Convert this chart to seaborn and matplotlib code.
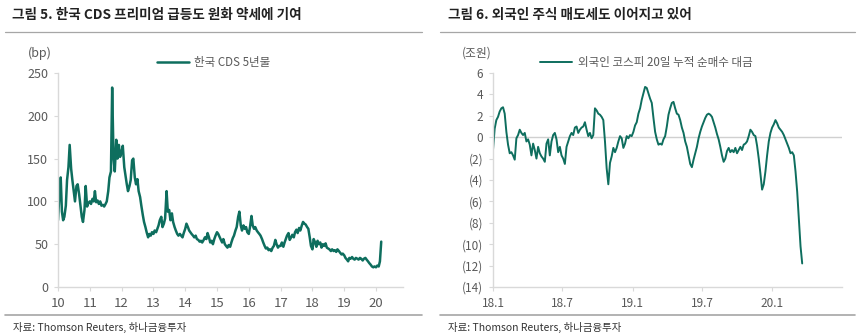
import numpy as np
import pandas as pd
import matplotlib
matplotlib.use("Agg")
import matplotlib.pyplot as plt
import matplotlib.dates as mdates
from matplotlib.lines import Line2D
import seaborn as sns

# ---------------- data ----------------
# Korea CDS 5Y (bp), semi-monthly readings, Jan 2010 - Mar 2020
cds_2010 = [78, 105, 128, 88, 78, 82, 95, 125, 140, 166, 138, 125, 112, 100, 118, 120, 108, 96, 82, 76, 90, 118, 94, 98]
cds_2011 = [100, 97, 103, 100, 112, 99, 101, 97, 100, 95, 96, 94, 97, 100, 112, 128, 135, 233, 150, 135, 172, 150, 166, 152]
cds_2012 = [158, 165, 140, 130, 120, 112, 118, 125, 148, 150, 128, 120, 126, 112, 105, 95, 84, 76, 70, 64, 58, 62, 60, 64]
cds_2013 = [62, 66, 64, 68, 72, 78, 82, 70, 74, 80, 112, 88, 90, 78, 86, 76, 70, 66, 62, 60, 62, 60, 58, 63]
cds_2014 = [68, 74, 70, 66, 64, 62, 60, 58, 60, 56, 55, 53, 54, 52, 55, 58, 56, 63, 58, 52, 54, 50, 56, 60]
cds_2015 = [64, 62, 58, 55, 52, 56, 50, 48, 46, 49, 47, 52, 57, 60, 66, 70, 82, 88, 72, 66, 72, 68, 70, 64]
cds_2016 = [62, 70, 83, 72, 68, 70, 66, 64, 62, 60, 56, 52, 48, 45, 46, 43, 44, 42, 46, 48, 55, 50, 46, 48]
cds_2017 = [48, 52, 47, 52, 56, 60, 63, 55, 58, 61, 58, 64, 67, 63, 69, 66, 72, 76, 74, 73, 70, 68, 58, 48]
cds_2018 = [44, 56, 52, 47, 54, 50, 52, 46, 50, 48, 51, 46, 45, 44, 42, 44, 42, 43, 41, 44, 42, 40, 38, 39]
cds_2019 = [37, 34, 32, 30, 34, 33, 35, 33, 32, 34, 33, 32, 34, 33, 31, 33, 34, 32, 30, 28, 26, 24, 23, 24]
cds_2020 = [23, 25, 24, 30, 53]
cds_label = "한국 CDS 5년물"
cds_years = ["10", "11", "12", "13", "14", "15", "16", "17", "18", "19", "20"]

# Foreign net buying of KOSPI, 20-day cumulative (trillion KRW), Jan 2018 - Mar 2020
flow_2018a = [-1.2, 0.8, 1.6, 1.9, 2.4, 2.7, 2.8, 2.2, 0.5, -0.7, -1.5, -1.4, -1.7, -2.1, -0.1, 0.2, 0.7, 0.4,
              0.2, 0.4, -0.4, -0.2, -0.7, -1.7, -0.6, -1.2, -2.0, -0.9, -1.5, -1.8, -2.0, -2.3, -0.6, -0.2,
              -1.7, -0.4, 0.2, 0.4, -0.2, -1.4, -0.9, -1.7, -2.0, -2.5, -0.9, -0.4, 0.1, 0.4, 0.2, 0.9, 1.0,
              0.4, 0.7, 0.9, 1.0, 1.4, 0.7, 0.1, 0.4, -0.1, 0.2, 2.7, 2.5, 2.2, 2.1, 1.9, 1.6, -0.4, -2.9]
flow_2018b = [-4.4, -2.4, -1.8, -1.0, -1.4, -1.0, -0.4, 0.1, -0.1, -1.0, -0.6, 0.1, -0.1, 0.2, 0.1, 0.5, 1.1,
              1.4, 2.2, 2.7, 3.5, 4.1, 4.7, 4.6, 4.1, 3.6, 3.2, 1.8, 0.5, -0.2, -0.7, -0.6, -0.7, -0.2, 0.1,
              1.0, 2.1, 2.7, 3.2, 3.3, 2.7, 2.2, 2.1, 1.6, 0.9, 0.4, -0.4, -0.9, -1.7, -2.5, -2.8, -2.1, -1.5,
              -0.9, -0.1, 0.5, 1.0, 1.4, 1.8, 2.1, 2.2, 2.1, 1.9, 1.4, 0.9]
flow_2019 = [0.3, -0.2, -0.9, -1.7, -2.3, -2.0, -1.3, -1.0, -1.4, -1.2, -1.4, -1.0, -1.5, -1.2, -0.9, -1.2,
             -0.7, -0.6, -0.4, 0.1, 0.7, 0.5, 0.2, 0.1, -0.8, -2.0, -3.4, -4.9, -4.4, -3.2, -1.7, -0.4, 0.4,
             0.9, 1.2, 1.6, 1.3, 0.9, 0.7, 0.5, 0.2, -0.2, -0.6, -1.0, -1.5, -1.4, -1.7, -3.2, -5.1, -7.6,
             -10.2, -11.8]
flow_label = "외국인 코스피 20일 누적 순매수 대금"
flow_ticks = ["18.1", "18.7", "19.1", "19.7", "20.1"]
flow_yticks = [6, 4, 2, 0, -2, -4, -6, -8, -10, -12, -14]

# ---------------- frames ----------------
cds_vals = (cds_2010 + cds_2011 + cds_2012 + cds_2013 + cds_2014 + cds_2015 + cds_2016
            + cds_2017 + cds_2018 + cds_2019 + cds_2020)
cds_df = pd.DataFrame({
    "date": pd.date_range("2010-01-01", periods=len(cds_vals), freq="SMS"),
    "value": cds_vals,
    "series": cds_label,
})
flow_vals = flow_2018a + flow_2018b + flow_2019
flow_df = pd.DataFrame({
    "date": pd.date_range("2018-01-01", "2020-03-19", periods=len(flow_vals)),
    "value": flow_vals,
    "series": flow_label,
})

# ---------------- style ----------------
sns.set_theme(style="white")
plt.rcParams["font.family"] = ["Noto Sans CJK KR", "DejaVu Sans"]
LINE = "#0e6e5e"
GRAY_TXT = "#595959"
SPINE = "#d9d9d9"

W, H = 861, 336
fig = plt.figure(figsize=(W / 100, H / 100), dpi=100)

def fx(px):
    return px / W

def fy(py):
    return 1 - py / H

axL = fig.add_axes([fx(58), fy(287), fx(403) - fx(58), fy(73) - fy(287)])
axR = fig.add_axes([fx(493), fy(287), fx(842) - fx(493), fy(73) - fy(287)])

sns.lineplot(data=cds_df, x="date", y="value", hue="series", palette=[LINE], lw=1.8, ax=axL)
sns.lineplot(data=flow_df, x="date", y="value", hue="series", palette=[LINE], lw=1.4, ax=axR)

for ax in (axL, axR):
    for s in ("top", "right"):
        ax.spines[s].set_visible(False)
    for s in ("left", "bottom"):
        ax.spines[s].set_color(SPINE)
        ax.spines[s].set_linewidth(1.0)
    ax.tick_params(axis="both", which="major", length=3, width=0.8, color=SPINE,
                   labelsize=8.5, labelcolor=GRAY_TXT, pad=4, bottom=True, left=True)
    ax.set_xlabel("")
    ax.set_ylabel("")
    ax.grid(False)

# left axes
axL.set_ylim(0, 250)
axL.set_yticks([0, 50, 100, 150, 200, 250])
axL.set_xlim(pd.Timestamp("2010-01-01"), pd.Timestamp("2020-11-06"))
yr_ticks = pd.date_range("2010-01-01", "2020-01-01", freq="YS")
axL.set_xticks(yr_ticks)
axL.set_xticklabels(cds_years)
axL.tick_params(axis="y", labelsize=9)
axL.tick_params(axis="x", labelsize=9.5)
axL.text(-0.087, 1.093, "(bp)", transform=axL.transAxes, ha="left", va="center",
         fontsize=9, color=GRAY_TXT)
legL = axL.legend(loc="center left", bbox_to_anchor=(0.287, 1.051), frameon=False,
                  borderpad=0, borderaxespad=0, handlelength=2.8, handletextpad=0.45,
                  fontsize=8.3)
for t in legL.get_texts():
    t.set_color(GRAY_TXT)

# right axes
axR.set_ylim(-14, 6)
axR.set_yticks(flow_yticks)
axR.set_yticklabels([f"({-v})" if v < 0 else f"{v}" for v in flow_yticks])
axR.set_xlim(pd.Timestamp("2018-01-01"), pd.Timestamp("2020-07-01"))
axR.set_xticks(pd.to_datetime(["2018-01-01", "2018-07-01", "2019-01-01", "2019-07-01", "2020-01-01"]))
axR.set_xticklabels(flow_ticks)
axR.axhline(0, color="#d0d0d0", lw=1.0, zorder=0)
axR.text(-0.089, 1.093, "(조원)", transform=axR.transAxes, ha="left", va="center",
         fontsize=8.5, color=GRAY_TXT)
legR = axR.legend(loc="center left", bbox_to_anchor=(0.135, 1.051), frameon=False,
                  borderpad=0, borderaxespad=0, handlelength=2.8, handletextpad=0.45,
                  fontsize=8.3)
for t in legR.get_texts():
    t.set_color(GRAY_TXT)

# titles, rules, sources
fig.text(fx(12), fy(15), "그림 5. 한국 CDS 프리미엄 급등도 원화 약세에 기여", ha="left", va="center",
         fontsize=9.8, fontweight="bold", color="#222222")
fig.text(fx(448), fy(15), "그림 6. 외국인 주식 매도세도 이어지고 있어", ha="left", va="center",
         fontsize=9.8, fontweight="bold", color="#222222")
for x0, x1 in ((5, 422), (440, 855)):
    fig.add_artist(Line2D([fx(x0), fx(x1)], [fy(32), fy(32)], transform=fig.transFigure,
                          color="#a6a6a6", lw=0.9))
    fig.add_artist(Line2D([fx(x0), fx(x1)], [fy(315), fy(315)], transform=fig.transFigure,
                          color="#a6a6a6", lw=1.2))
fig.text(fx(13), fy(327), "자료: Thomson Reuters, 하나금융투자", ha="left", va="center",
         fontsize=7.5, color="#333333")
fig.text(fx(448), fy(327), "자료: Thomson Reuters, 하나금융투자", ha="left", va="center",
         fontsize=7.5, color="#333333")

fig.savefig("out.png", dpi=100)
